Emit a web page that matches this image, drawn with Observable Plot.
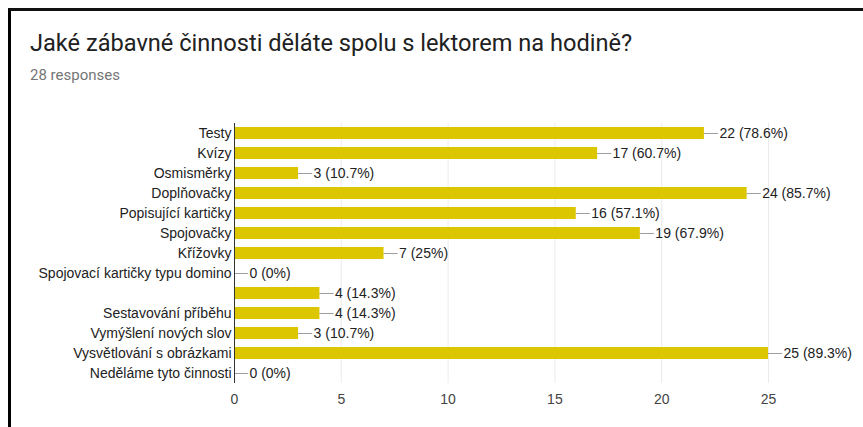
<!DOCTYPE html>
<html>
<head>
<meta charset="utf-8">
<script src="https://cdn.jsdelivr.net/npm/d3@7"></script>
<script src="https://cdn.jsdelivr.net/npm/@observablehq/plot@0.6"></script>
<style>
  html, body { margin: 0; padding: 0; background: #fff; width: 863px; height: 427px; overflow: hidden; }
  #frame { position: absolute; left: 8px; top: 8px; width: 870px; height: 440px;
           border-left: 3px solid #000; border-top: 3px solid #111; box-sizing: border-box; }
  #title { position: absolute; left: 30px; top: 28px; font-family: Roboto, "Liberation Sans", sans-serif;
           font-size: 23.6px; line-height: 30px; color: #212121; white-space: nowrap; }
  #sub { position: absolute; left: 30px; top: 65px; font-family: Roboto, "Liberation Sans", sans-serif;
         font-size: 15px; line-height: 20px; color: #757575; white-space: nowrap; }
  #chart { position: absolute; left: 0; top: 113px; }
</style>
</head>
<body>
<div id="frame"></div>
<div id="title">Jaké zábavné činnosti děláte spolu s lektorem na hodině?</div>
<div id="sub">28 responses</div>
<div id="chart"></div>
<script>
const categories = [
  "Testy",
  "Kvízy",
  "Osmisměrky",
  "Doplňovačky",
  "Popisující kartičky",
  "Spojovačky",
  "Křížovky",
  "Spojovací kartičky typu domino",
  "",
  "Sestavování příběhu",
  "Vymýšlení nových slov",
  "Vysvětlování s obrázkami",
  "Neděláme tyto činnosti"
];
const counts = [22, 17, 3, 24, 16, 19, 7, 0, 4, 4, 3, 25, 0];
const percents = ["78.6%", "60.7%", "10.7%", "85.7%", "57.1%", "67.9%", "25%", "0%", "14.3%", "14.3%", "10.7%", "89.3%", "0%"];
const xTicks = [0, 5, 10, 15, 20, 25];

const data = categories.map((c, i) => ({id: i, label: c, value: counts[i], pct: percents[i]}));
const connector = 0.66; // connector length in data units

const font = '"Liberation Sans", Arial, sans-serif';

const chart = Plot.plot({
  width: 863,
  height: 300,
  marginLeft: 234,
  marginRight: 95,
  marginTop: 10,
  marginBottom: 30,
  style: {fontFamily: font, fontSize: "14px", color: "#222", background: "transparent"},
  x: {domain: [0, 25], ticks: xTicks, label: null},
  y: {domain: data.map(d => d.id), paddingInner: 0.4, paddingOuter: 0.2, label: null},
  marks: [
    Plot.ruleX(xTicks.filter(t => t > 0), {stroke: "#ebebeb", strokeWidth: 1}),
    Plot.barX(data, {y: "id", x: "value", fill: "#dcc600"}),
    Plot.ruleY(data, {y: "id", x1: "value", x2: d => d.value + connector, stroke: "#9e9e9e", strokeWidth: 1}),
    Plot.text(data, {y: "id", x: "value", text: d => `${d.value} (${d.pct})`, dx: 15, textAnchor: "start", fill: "#222", fontSize: 14}),
    Plot.ruleX([0], {stroke: "#333", strokeWidth: 1}),
    Plot.axisY({tickSize: 0, tickPadding: 3, tickFormat: i => categories[i], fontSize: 14, fill: "#222", label: null}),
    Plot.axisX({ticks: xTicks, tickSize: 0, tickPadding: 11, fontSize: 14, fill: "#444", label: null})
  ]
});
document.getElementById("chart").appendChild(chart);
</script>
</body>
</html>
